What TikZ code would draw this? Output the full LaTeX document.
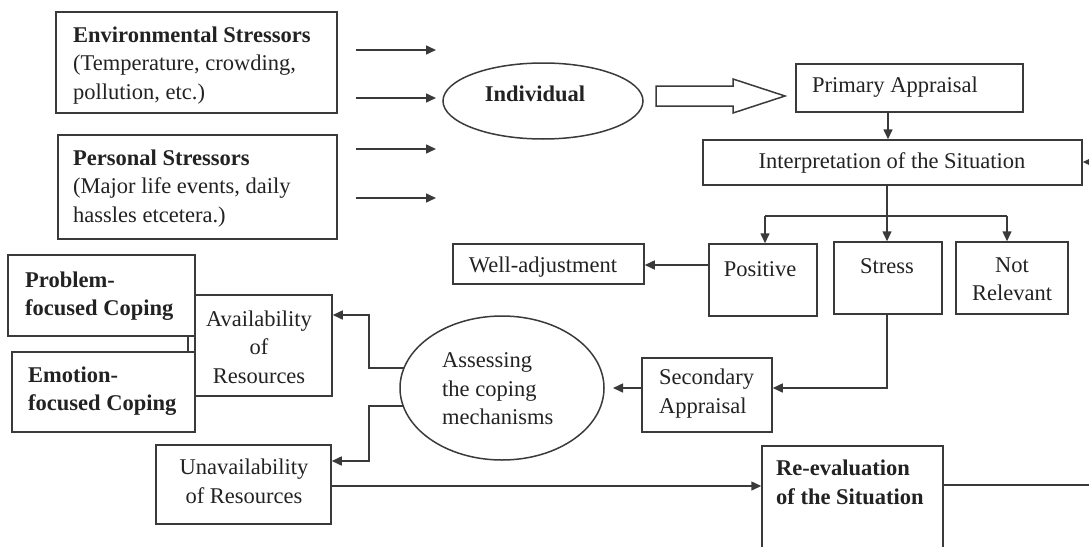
\documentclass[tikz,border=0pt]{standalone}
\usepackage{fontspec}
\setmainfont{Liberation Serif}
\usetikzlibrary{arrows.meta,shapes.geometric}
\definecolor{ln}{HTML}{3A3A3A}
\definecolor{tx}{HTML}{222222}
\tikzset{
  box/.style={draw=ln, line width=1.5pt, rectangle, inner sep=0pt},
  oval/.style={draw=ln, line width=1.5pt, ellipse, inner sep=0pt},
  conn/.style={draw=ln, line width=1.5pt},
  arr/.style={draw=ln, line width=1.5pt, -{Triangle[length=10pt,width=9pt]}},
  lbl/.style={inner sep=0pt, text=tx, font=\fontsize{22.5}{28.5}\selectfont},
}
\begin{document}
\begin{tikzpicture}[x=1pt,y=-1pt]
\useasboundingbox (0,0) rectangle (1089,546);
% boxes
\node[box, minimum width=281pt, minimum height=101pt] (env) at (196.5,62.5) {};
\node[box, minimum width=279pt, minimum height=104pt] (pers) at (197.5,187) {};
\node[oval, minimum width=200pt, minimum height=76pt] (indiv) at (543,101) {};
\node[box, minimum width=227pt, minimum height=48pt] (prim) at (909.5,88) {};
\node[box, minimum width=379pt, minimum height=45pt] (interp) at (892.5,162.5) {};
\node[box, minimum width=108pt, minimum height=72pt] (pos) at (763,280) {};
\node[box, minimum width=108pt, minimum height=72pt] (stress) at (888,278) {};
\node[box, minimum width=112pt, minimum height=72pt] (notrel) at (1012,278) {};
\node[box, minimum width=191pt, minimum height=40pt] (well) at (548.5,264) {};
\node[box, minimum width=130pt, minimum height=74pt] (sec) at (707,395) {};
\node[oval, minimum width=204pt, minimum height=144pt] (assess) at (502,388) {};
\node[box, minimum width=137pt, minimum height=101pt] (avail) at (263.5,345.5) {};
\node[box, minimum width=187pt, minimum height=81pt] (prob) at (101.5,295.5) {};
\node[box, minimum width=183pt, minimum height=80pt] (emo) at (103.5,392) {};
\node[box, minimum width=175pt, minimum height=79pt] (unav) at (243.5,484.5) {};
\node[box, minimum width=181pt, minimum height=114pt] (reev) at (852.5,503) {};
% texts (base anchor = baseline of the last line)
\node[lbl, anchor=base west, align=left] (tenv) at (73,99) {\textbf{Environmental Stressors}\\(Temperature, crowding,\\pollution, etc.)};
\node[lbl, anchor=base west, align=left] (tpers) at (73,222) {\textbf{Personal Stressors}\\(Major life events, daily\\hassles etcetera.)};
\node[lbl, anchor=base] (tind) at (535,101) {\textbf{Individual}};
\node[lbl, anchor=base west] (tprim) at (812,92) {Primary Appraisal};
\node[lbl, anchor=base] (tint) at (892,168) {Interpretation of the Situation};
\node[lbl, anchor=base] (tpos) at (760,276) {Positive};
\node[lbl, anchor=base] (tstr) at (887,273) {Stress};
\node[lbl, anchor=base, align=center] (tnr) at (1012,300.5) {Not\\Relevant};
\node[lbl, anchor=base] (twell) at (543,272) {Well-adjustment};
\node[lbl, anchor=base west, align=left] (tsec) at (659,413) {Secondary\\Appraisal};
\node[lbl, anchor=base west, align=left] (tass) at (442,424.5) {Assessing\\the coping\\mechanisms};
\node[lbl, anchor=base, align=center] (tav) at (259,383) {Availability\\of\\Resources};
\node[lbl, anchor=base west, align=left] (tprob) at (25,315.5) {\textbf{Problem-}\\\textbf{focused Coping}};
\node[lbl, anchor=base west, align=left] (temo) at (28,410.5) {\textbf{Emotion-}\\\textbf{focused Coping}};
\node[lbl, anchor=base, align=center] (tun) at (244,503) {Unavailability\\of Resources};
\node[lbl, anchor=base west, align=left] (tre) at (776,504) {\textbf{Re-evaluation}\\\textbf{of the Situation}};
% stressor arrows
\coordinate (s1) at (356,50); \coordinate (e1) at (436,50);
\coordinate (s2) at (356,98); \coordinate (e2) at (436,98);
\coordinate (s3) at (356,149); \coordinate (e3) at (436,149);
\coordinate (s4) at (356,198); \coordinate (e4) at (436,198);
\draw[arr] (s1) -- (e1);
\draw[arr] (s2) -- (e2);
\draw[arr] (s3) -- (e3);
\draw[arr] (s4) -- (e4);
% hollow arrow
\draw[conn, line join=miter] (656,86) -- (733,86) -- (733,79) -- (785,96) -- (733,113) -- (733,106) -- (656,106) -- cycle;
% primary -> interpretation
\draw[arr] (prim.south -| 888,0) -- (interp.north -| 888,0);
\coordinate (inR) at (1092,162);
\draw[arr] (inR) -- (interp.east |- inR);
% branch
\coordinate (br) at (887,216);
\draw[arr] (interp.south -| br) -- (stress.north -| br);
\draw[conn] (765,216) -- (1007,216);
\draw[arr] (765,216) -- (pos.north -| 765,0);
\draw[arr] (1007,216) -- (notrel.north -| 1007,0);
% positive -> well
\draw[arr] (pos.west |- 0,265) -- (well.east |- 0,265);
% stress -> secondary
\draw[arr] (stress.south -| br) -- (887,388) -- (sec.east |- 0,388);
% secondary -> assess
\coordinate (asR) at (613,388);
\draw[arr] (sec.west |- 0,388) -- (asR);
% assess -> availability / unavailability
\draw[arr] (404,368) -- (369,368) -- (369,315) -- (avail.east |- 0,315);
\draw[arr] (404,406) -- (369,406) -- (369,461) -- (unav.east |- 0,461);
% unavailability -> re-evaluation
\draw[arr] (unav.east |- 0,486) -- (reev.west |- 0,486);
\coordinate (outR) at (1089,485);
\draw[conn] (reev.east |- outR) -- (outR);
% coping link
\draw[conn] (prob.south -| 188,0) -- (emo.north -| 188,0);
\end{tikzpicture}
\end{document}
